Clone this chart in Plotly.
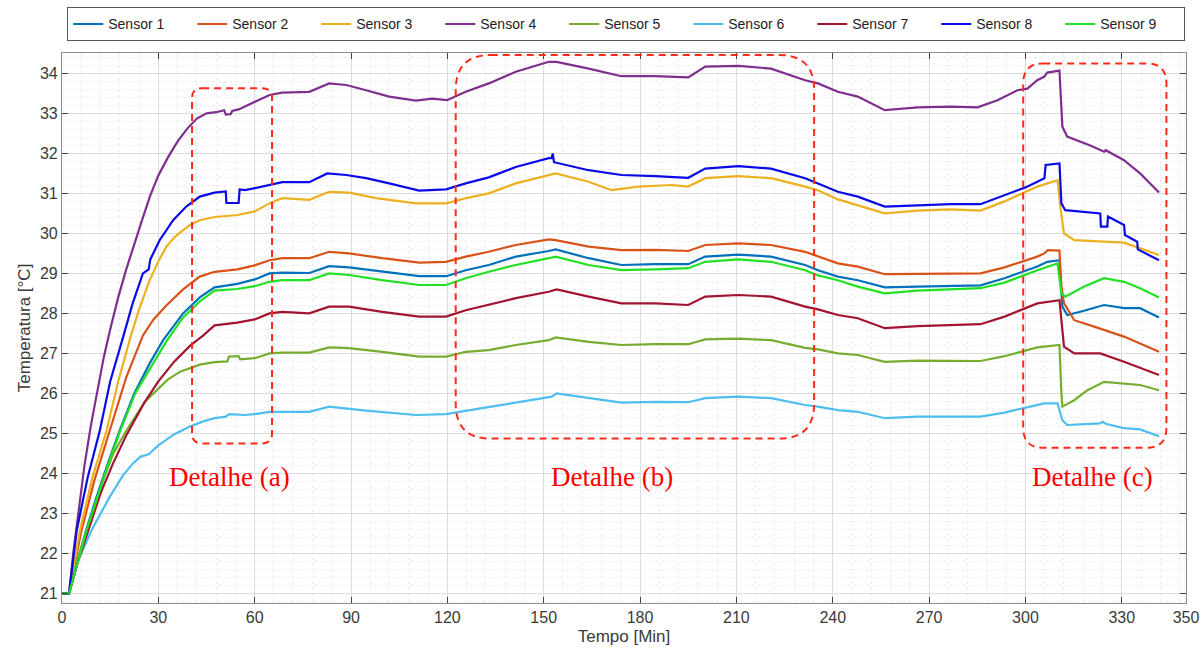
import plotly.graph_objects as go

# ---- measured temperatures (time in minutes, temperature in °C) ----
S1_T = [0, 2.2, 7.5, 10.8, 14.5, 18, 22.5, 27.3, 31.5, 37.7, 42.9, 47.5, 54.6, 60, 64.6, 68.6, 77, 83.2, 89.4, 99.7,
        111.2, 119.6, 125.7, 132.9, 141.3, 151.6, 153.7, 164, 174.2, 184.8, 195, 200.3, 210.6, 220.8, 231.4, 235.4,
        241.6, 247.8, 256.2, 266.5, 286, 293.5, 303.7, 306.8, 310.6, 311.5, 313, 317.1, 324.5, 330.7, 335.7, 341.6]
S1_Y = [21.0, 21.0, 22.58, 23.42, 24.3, 25.08, 26.0, 26.75, 27.33, 28.0, 28.4, 28.65, 28.74, 28.85, 29.0, 29.02, 29.01,
        29.18, 29.15, 29.04, 28.93, 28.93, 29.08, 29.21, 29.42, 29.56, 29.6, 29.38, 29.21, 29.23, 29.23, 29.42, 29.47,
        29.42, 29.21, 29.08, 28.92, 28.83, 28.65, 28.67, 28.7, 28.88, 29.17, 29.29, 29.33, 28.17, 27.96, 28.04, 28.21,
        28.13, 28.13, 27.9]

S2_T = [0, 2.2, 6, 10, 14.9, 20, 25.2, 28.5, 32.5, 37.7, 42.9, 47.5, 54.6, 60, 64.6, 68.6, 77, 83.2, 89.4, 99.7,
        111.2, 119.6, 125.7, 132.9, 141.3, 151.6, 153.7, 164, 174.2, 184.8, 195, 200.3, 210.6, 220.8, 231.4, 235.4,
        241.6, 247.8, 256.2, 266.5, 286, 293.5, 303.7, 305.9, 307, 310.6, 311.2, 312, 315.2, 321.4, 330.7, 341.6]
S2_Y = [21.0, 21.0, 22.55, 23.8, 25.08, 26.4, 27.45, 27.85, 28.2, 28.6, 28.92, 29.04, 29.1, 29.2, 29.33, 29.38, 29.38,
        29.54, 29.5, 29.38, 29.27, 29.29, 29.42, 29.54, 29.71, 29.85, 29.83, 29.67, 29.58, 29.59, 29.56, 29.71, 29.75,
        29.71, 29.54, 29.42, 29.25, 29.17, 28.98, 28.99, 29.0, 29.15, 29.42, 29.5, 29.58, 29.57, 28.67, 28.26, 27.83,
        27.67, 27.42, 27.04]

S3_T = [0, 2.2, 5.6, 9.5, 13.9, 17.5, 21.3, 24, 27.3, 30, 32.5, 35, 37.7, 40, 42.9, 47.5, 54.6, 60, 64.6, 68.6,
        77, 83.2, 89.4, 97.8, 110.2, 119.6, 125.7, 132.9, 141.3, 151.6, 153.7, 164, 171.1, 179.5, 189.8, 195, 200.3,
        210.6, 220.8, 231.4, 235.4, 241.6, 247.8, 256.2, 266.5, 276.7, 286, 293.5, 303.7, 310, 311, 312, 315.2,
        325.5, 330.7, 341.6]
S3_Y = [21.0, 21.0, 22.58, 23.9, 25.08, 26.3, 27.4, 28.1, 28.83, 29.3, 29.67, 29.9, 30.08, 30.22, 30.33, 30.41, 30.46,
        30.55, 30.75, 30.88, 30.84, 31.04, 31.02, 30.88, 30.75, 30.75, 30.88, 31.0, 31.25, 31.46, 31.5, 31.29, 31.08,
        31.17, 31.21, 31.17, 31.38, 31.43, 31.38, 31.17, 31.08, 30.85, 30.7, 30.5, 30.57, 30.6, 30.57, 30.8, 31.17,
        31.33, 30.58, 30.0, 29.83, 29.79, 29.77, 29.46]

S4_T = [0, 2.2, 3.5, 5, 7, 9, 11, 13, 15, 17.5, 20, 22.5, 25, 27.5, 30, 33, 36, 39, 42, 45, 48, 50.5, 51, 52.5, 53,
        55, 60, 64.6, 68.6, 77, 83.2, 88.5, 94.7, 101.9, 110.2, 115.3, 119.9, 125.7, 132.9, 141.3, 151.6, 154, 164,
        174.2, 184.8, 195, 200.3, 210.6, 220.8, 231.4, 235.4, 241.6, 247.8, 256.2, 266.5, 276.7, 285.1, 291.3, 297.5,
        300.6, 303.7, 305.9, 306.8, 310.6, 311.5, 313, 320.2, 324.5, 325, 330.7, 335.7, 341.6]
S4_Y = [21.0, 21.0, 22.0, 23.0, 24.2, 25.2, 26.1, 26.9, 27.6, 28.4, 29.1, 29.75, 30.35, 30.95, 31.45, 31.9, 32.3, 32.62,
        32.87, 33.0, 33.03, 33.08, 32.97, 32.98, 33.06, 33.1, 33.28, 33.46, 33.52, 33.54, 33.75, 33.71, 33.58, 33.42,
        33.32, 33.37, 33.33, 33.54, 33.75, 34.04, 34.29, 34.29, 34.12, 33.93, 33.93, 33.9, 34.17, 34.19, 34.12, 33.83,
        33.75, 33.54, 33.42, 33.08, 33.15, 33.17, 33.15, 33.33, 33.58, 33.62, 33.83, 33.92, 34.02, 34.07, 32.67, 32.42,
        32.2, 32.04, 32.08, 31.83, 31.5, 31.02]

S5_T = [0, 2.2, 5, 7.7, 12.8, 16, 20.1, 25.8, 29.4, 33, 37, 42.9, 47.5, 51.5, 52, 55, 55.5, 60, 64.6, 68.6, 77, 83.2,
        89.4, 99.7, 111.2, 119.6, 125.7, 132.9, 141.3, 151.6, 153.7, 164, 174.2, 184.8, 195, 200.3, 210.6, 220.8,
        231.4, 235.4, 241.6, 247.8, 256.2, 266.5, 286, 293.5, 303.7, 306.8, 310.6, 311.2, 311.5, 315.2, 319.3, 324.5,
        330.7, 335.7, 341.6]
S5_Y = [21.0, 21.0, 21.9, 22.58, 23.83, 24.5, 25.08, 25.79, 26.08, 26.35, 26.55, 26.72, 26.78, 26.8, 26.92, 26.93,
        26.85, 26.88, 27.0, 27.02, 27.02, 27.15, 27.13, 27.04, 26.92, 26.92, 27.04, 27.08, 27.21, 27.33, 27.4, 27.29,
        27.21, 27.23, 27.23, 27.35, 27.37, 27.33, 27.14, 27.1, 27.0, 26.96, 26.79, 26.82, 26.81, 26.93, 27.15, 27.17,
        27.21, 26.0, 25.67, 25.83, 26.08, 26.29, 26.25, 26.21, 26.08]

S6_T = [0, 2.2, 4.6, 9.2, 14.9, 19, 22.1, 24.5, 27, 30, 35, 40, 44, 47.5, 51, 52, 57, 60, 64.6, 77, 83.2, 94.7, 110.2,
        119.6, 130.8, 141.3, 151.6, 152.5, 154, 164, 174.2, 184.8, 195, 200.3, 210.6, 220.8, 231.4, 235.4, 241.6,
        247.8, 256.2, 266.5, 286, 293.5, 303.7, 305.9, 310, 311.5, 313, 323.3, 324, 325, 330.7, 335.7, 341.6]
S6_Y = [21.0, 21.0, 21.75, 22.58, 23.42, 23.95, 24.25, 24.42, 24.48, 24.7, 24.98, 25.18, 25.3, 25.38, 25.42, 25.48,
        25.46, 25.48, 25.54, 25.54, 25.67, 25.57, 25.46, 25.48, 25.63, 25.77, 25.92, 25.92, 26.0, 25.88, 25.77, 25.79,
        25.78, 25.88, 25.92, 25.88, 25.71, 25.67, 25.58, 25.54, 25.38, 25.42, 25.42, 25.52, 25.72, 25.75, 25.75,
        25.33, 25.21, 25.25, 25.29, 25.24, 25.13, 25.1, 24.93]

S7_T = [0, 2.2, 5, 8.2, 12, 15.9, 20, 25.8, 30, 35, 40, 44, 47.5, 54.6, 60, 64.6, 68.6, 77, 83.2, 89.4, 99.7, 111.2,
        119.6, 125.7, 132.9, 141.3, 151.6, 154, 164, 174.2, 184.8, 195, 200.3, 210.6, 220.8, 231.4, 235.4, 241.6,
        247.8, 256.2, 266.5, 286, 293.5, 303.7, 310.6, 311.2, 312, 315.2, 323.3, 330.7, 341.6]
S7_Y = [21.0, 21.0, 21.8, 22.58, 23.5, 24.25, 24.95, 25.79, 26.3, 26.8, 27.2, 27.45, 27.7, 27.77, 27.85, 28.0, 28.04,
        28.0, 28.17, 28.17, 28.04, 27.92, 27.92, 28.08, 28.21, 28.38, 28.54, 28.6, 28.42, 28.25, 28.25, 28.21, 28.42,
        28.46, 28.42, 28.17, 28.1, 27.96, 27.88, 27.63, 27.68, 27.73, 27.92, 28.25, 28.33, 27.83, 27.17, 27.0, 27.0,
        26.79, 26.46]

S8_T = [0, 2.2, 4.6, 8, 11.8, 15, 19, 22, 25.2, 27, 27.5, 30.4, 34.6, 38.7, 42.9, 47.5, 51, 51.2, 55, 55.3, 57, 63.5,
        68.6, 77, 82.6, 88.5, 94.7, 101.9, 111.2, 119.6, 125.7, 132.9, 141.3, 151.6, 152.5, 152.8, 153.2, 164, 174.2,
        184.8, 195, 200.3, 210.6, 220.8, 231.4, 235.4, 241.6, 247.8, 256.2, 266.5, 276.7, 286, 293.5, 300, 303.7,
        305.9, 306.3, 310.6, 311.2, 312.4, 323.3, 323.5, 325.5, 325.7, 330.7, 331, 334.8, 335, 341.6]
S8_Y = [21.0, 21.0, 22.58, 23.9, 25.08, 26.3, 27.4, 28.25, 29.0, 29.1, 29.35, 29.83, 30.33, 30.67, 30.92, 31.02, 31.05,
        30.76, 30.76, 31.1, 31.08, 31.2, 31.28, 31.28, 31.5, 31.46, 31.38, 31.25, 31.07, 31.1, 31.25, 31.4, 31.66,
        31.88, 31.88, 32.0, 31.78, 31.58, 31.46, 31.43, 31.39, 31.62, 31.68, 31.62, 31.38, 31.25, 31.04, 30.92, 30.67,
        30.7, 30.73, 30.73, 30.95, 31.15, 31.29, 31.38, 31.71, 31.75, 30.75, 30.58, 30.5, 30.17, 30.17, 30.42, 30.21,
        29.96, 29.79, 29.6, 29.33]

S9_T = [0, 2.2, 7.7, 11, 14.7, 18.2, 22.8, 28.4, 32.5, 37.7, 42.9, 47.5, 54.6, 60, 64.6, 68.6, 77, 83.2, 89.4, 99.7,
        111.2, 119.6, 125.7, 132.9, 141.3, 151.6, 153.7, 164, 174.2, 184.8, 195, 200.3, 210.6, 220.8, 231.4, 235.4,
        241.6, 247.8, 256.2, 266.5, 286, 293.5, 303.7, 310, 311.2, 312.4, 318.3, 324.5, 330.7, 335.7, 341.6]
S9_Y = [21.0, 21.0, 22.58, 23.42, 24.3, 25.08, 26.0, 26.75, 27.3, 27.9, 28.3, 28.57, 28.61, 28.68, 28.79, 28.83, 28.83,
        29.0, 28.96, 28.83, 28.71, 28.71, 28.88, 29.04, 29.21, 29.38, 29.42, 29.21, 29.08, 29.1, 29.13, 29.29, 29.35,
        29.29, 29.08, 28.95, 28.83, 28.67, 28.5, 28.57, 28.63, 28.77, 29.08, 29.25, 28.5, 28.42, 28.67, 28.88, 28.79,
        28.63, 28.4]

SENSOR_NAMES = ["Sensor 1", "Sensor 2", "Sensor 3", "Sensor 4", "Sensor 5",
                "Sensor 6", "Sensor 7", "Sensor 8", "Sensor 9"]
SENSOR_COLORS = ["#0072BD", "#D95319", "#EDB120", "#7E2F8E", "#77AC30",
                 "#4DBEEE", "#A2142F", "#0A0AE6", "#22E022"]

# highlighted regions: time span, temperature span, corner radius (px) and caption
DETAIL_LABELS = ["Detalhe (a)", "Detalhe (b)", "Detalhe (c)"]
DETAIL_T0 = [40.5, 122.6, 299.3]
DETAIL_T1 = [65.4, 234.2, 343.9]
DETAIL_LOW = [24.75, 24.87, 24.64]
DETAIL_HIGH = [33.63, 34.46, 34.25]
DETAIL_RADIUS_PX = [10, 35, 20]
DETAIL_LABEL_T = [52.2, 171.4, 320.8]
DETAIL_LABEL_Y = 23.91

X_TICKS = [0, 30, 60, 90, 120, 150, 180, 210, 240, 270, 300, 330, 350]
Y_TICKS = list(range(21, 35))

X_RANGE = [0, 350]
Y_RANGE = [20.76, 34.51]

W, H = 1202, 648
M_L, M_R, M_T, M_B = 62, 16, 53, 45

series = [(S1_T, S1_Y), (S2_T, S2_Y), (S3_T, S3_Y), (S4_T, S4_Y), (S5_T, S5_Y),
          (S6_T, S6_Y), (S7_T, S7_Y), (S8_T, S8_Y), (S9_T, S9_Y)]

fig = go.Figure()
for name, color, (t, y) in zip(SENSOR_NAMES, SENSOR_COLORS, series):
    fig.add_trace(go.Scatter(x=t, y=y, mode="lines", name=name,
                             line=dict(color=color, width=2.2)))

# pixels per data unit, used to give the dashed boxes round corners
px_per_min = (W - M_L - M_R) / (X_RANGE[1] - X_RANGE[0])
px_per_deg = (H - M_T - M_B) / (Y_RANGE[1] - Y_RANGE[0])


def rounded_box(x0, x1, y0, y1, r_px):
    rx = r_px / px_per_min
    ry = r_px / px_per_deg
    return (f"M{x0 + rx},{y1} L{x1 - rx},{y1} Q{x1},{y1} {x1},{y1 - ry} "
            f"L{x1},{y0 + ry} Q{x1},{y0} {x1 - rx},{y0} "
            f"L{x0 + rx},{y0} Q{x0},{y0} {x0},{y0 + ry} "
            f"L{x0},{y1 - ry} Q{x0},{y1} {x0 + rx},{y1} Z")


shapes = []
annotations = []
for lab, t0, t1, lo, hi, r, lt in zip(DETAIL_LABELS, DETAIL_T0, DETAIL_T1, DETAIL_LOW,
                                      DETAIL_HIGH, DETAIL_RADIUS_PX, DETAIL_LABEL_T):
    shapes.append(dict(type="path", xref="x", yref="y", path=rounded_box(t0, t1, lo, hi, r),
                       line=dict(color="#FF2A1A", width=2, dash="7px,5px"),
                       fillcolor="rgba(0,0,0,0)", layer="above"))
    annotations.append(dict(x=lt, y=DETAIL_LABEL_Y, xref="x", yref="y", text=lab, showarrow=False,
                            font=dict(family="Liberation Serif", size=27, color="#FF0000"),
                            xanchor="center", yanchor="middle"))

axis_font = dict(family="Liberation Sans", size=16, color="#3a3a3a")

fig.update_layout(
    width=W, height=H,
    margin=dict(l=M_L, r=M_R, t=M_T, b=M_B, pad=0, autoexpand=False),
    paper_bgcolor="white", plot_bgcolor="white",
    font=dict(family="Liberation Sans", color="#333333"),
    shapes=shapes, annotations=annotations,
    showlegend=True,
    legend=dict(orientation="h", x=0.502, xanchor="center", y=1.052, yanchor="middle",
                bordercolor="#555555", borderwidth=1, bgcolor="white",
                font=dict(family="Liberation Sans", size=14, color="#222222"),
                entrywidth=79, tracegroupgap=0),
    xaxis=dict(range=X_RANGE, tickmode="array", tickvals=X_TICKS, ticktext=[str(v) for v in X_TICKS],
               showline=True, linecolor="#8c8c8c", linewidth=1.2, mirror="ticks",
               ticks="inside", ticklen=6, tickcolor="#444444", tickwidth=1,
               showgrid=True, gridcolor="#dcdcdc", gridwidth=1, zeroline=False,
               tickfont=axis_font,
               title=dict(text="Tempo [Min]", font=dict(family="Liberation Sans", size=17, color="#3a3a3a"),
                          standoff=4),
               minor=dict(dtick=6, tick0=0, showgrid=True, gridcolor="#ededed", griddash="dot", ticks="")),
    yaxis=dict(range=Y_RANGE, tickmode="array", tickvals=Y_TICKS, ticktext=[str(v) for v in Y_TICKS],
               showline=True, linecolor="#8c8c8c", linewidth=1.2, mirror="ticks",
               ticks="inside", ticklen=6, tickcolor="#444444", tickwidth=1,
               showgrid=True, gridcolor="#dcdcdc", gridwidth=1, zeroline=False,
               tickfont=axis_font,
               title=dict(text="Temperatura [°C]", font=dict(family="Liberation Sans", size=17, color="#3a3a3a"),
                          standoff=4),
               minor=dict(dtick=0.2, tick0=21, showgrid=True, gridcolor="#ededed", griddash="dot", ticks="")),
)

fig.write_html("out.html")
